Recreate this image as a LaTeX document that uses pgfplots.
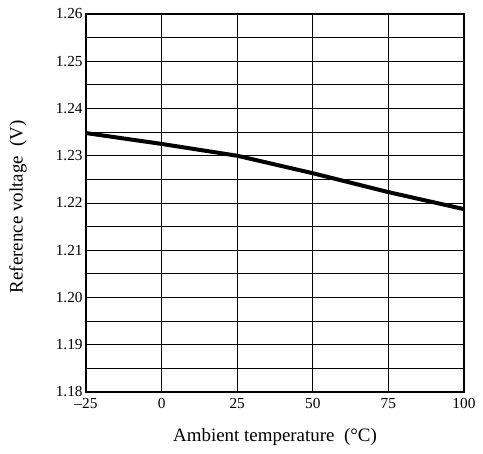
\documentclass[border=0pt]{standalone}
\usepackage{pgfplots}
\pgfplotsset{compat=1.18}
\usepackage{fontspec}
\setmainfont{Liberation Serif}
\begin{document}
\begin{tikzpicture}[font=\fontsize{11.5}{13}\selectfont]
  \begin{axis}[
    width=283.5pt, height=283.5pt,
    scale only axis,
    xmin=-25, xmax=100,
    ymin=1.18, ymax=1.26,
    xtick={-25,0,25,50,75,100},
    xticklabels={\textendash25,0,25,50,75,100},
    ytick={1.18,1.19,...,1.26},
    minor y tick num=1,
    grid=both,
    major grid style={black, line width=0.6pt},
    minor grid style={black, line width=0.6pt},
    major tick length=0pt, minor tick length=0pt,
    axis line style={black, line width=0.9pt},
    /pgf/number format/assume math mode=true,
    yticklabel style={/pgf/number format/fixed, /pgf/number format/precision=2,
      /pgf/number format/fixed zerofill, xshift=1pt},
    xticklabel style={yshift=-1pt},
    label style={font=\fontsize{14.2}{16}\selectfont},
    xlabel={Ambient temperature\ \ (°C)},
    ylabel={Reference voltage\ \ (V)},
    xlabel style={at={(axis description cs:0.5,-0.119)}, anchor=center},
    ylabel style={at={(axis description cs:-0.18,0.49)}, anchor=center},
  ]
    \addplot[black, line width=3pt, line join=round] coordinates {
      (-25,1.2348) (0,1.2325) (25,1.2300) (50,1.2263) (75,1.2223) (100,1.2187)
    };
  \end{axis}
  \pgfresetboundingbox
  \path ([shift={(-64.5pt,-46.5pt)}]current axis.south west)
        ([shift={(14.25pt,10.5pt)}]current axis.north east);
\end{tikzpicture}
\end{document}
